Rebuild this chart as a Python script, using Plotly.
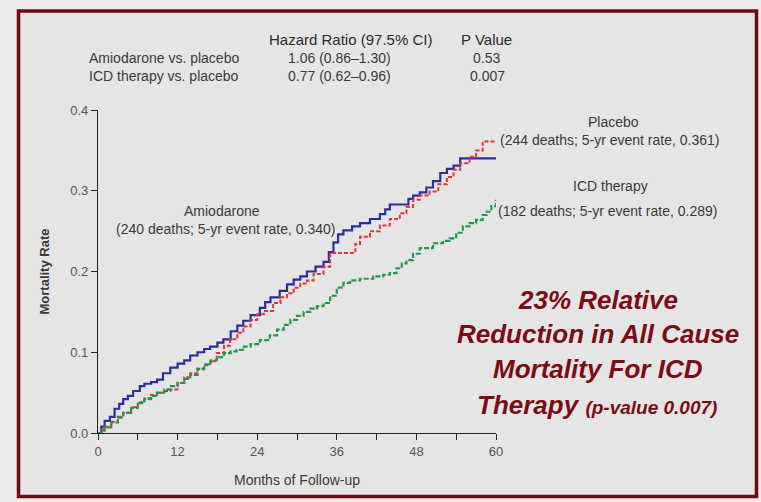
import plotly.graph_objects as go

# Kaplan-Meier style cumulative mortality, months of follow-up vs. rate
amio_months = [0, 0.5, 1, 1.8, 2.5, 3.2, 3.8, 4.5, 5.3, 6.3, 7, 8, 8.9, 9.8, 10.9, 12, 13, 13.9,
               15, 16, 16.9, 18, 18.9, 20, 21, 21.9, 23, 24.4, 25.2, 26, 27.4, 28.5, 29.5, 30.5,
               31.5, 32.8, 34, 34.8, 35.5, 36.2, 37, 38.3, 39.5, 41, 42.5, 43.3, 44, 46, 46.8,
               47.5, 48.5, 49.5, 50.5, 51.6, 52.6, 53.6, 54.6, 60]
amio_rate = [0, 0.008, 0.015, 0.02, 0.03, 0.036, 0.042, 0.046, 0.052, 0.058, 0.061, 0.063, 0.066,
             0.074, 0.081, 0.086, 0.09, 0.096, 0.1, 0.104, 0.107, 0.112, 0.116, 0.126, 0.133,
             0.139, 0.146, 0.155, 0.162, 0.168, 0.176, 0.184, 0.19, 0.194, 0.2, 0.206, 0.212,
             0.224, 0.236, 0.246, 0.251, 0.256, 0.26, 0.265, 0.271, 0.277, 0.283, 0.283, 0.29,
             0.294, 0.298, 0.304, 0.312, 0.322, 0.327, 0.331, 0.340, 0.340]

placebo_months = [0, 0.5, 1, 2, 3, 3.8, 5, 6, 7, 8, 8.9, 10, 10.9, 12, 13, 13.9, 15, 16, 16.9,
                  17.9, 19, 19.9, 21, 21.9, 23, 24, 25, 26.4, 27.5, 28.5, 29.5, 30.5, 31.5, 32.5,
                  34, 35, 38, 38.8, 39.5, 41, 42.5, 44, 45.5, 46.5, 47.5, 48.5, 50, 51.3, 52.6,
                  53.6, 54.6, 56, 57, 58, 60]
placebo_rate = [0, 0.004, 0.008, 0.014, 0.02, 0.025, 0.032, 0.038, 0.043, 0.047, 0.05, 0.052,
                0.054, 0.062, 0.069, 0.074, 0.08, 0.084, 0.089, 0.099, 0.108, 0.116, 0.124, 0.132,
                0.14, 0.147, 0.151, 0.161, 0.168, 0.173, 0.18, 0.185, 0.189, 0.197, 0.206, 0.223,
                0.223, 0.234, 0.243, 0.25, 0.257, 0.265, 0.272, 0.28, 0.289, 0.294, 0.299, 0.308,
                0.317, 0.326, 0.334, 0.342, 0.35, 0.361, 0.361]

icd_months = [0, 0.5, 1, 2, 3, 3.8, 5, 6, 7, 8, 8.9, 10, 11, 12, 13, 13.9, 15, 16, 17, 17.9, 19,
              20, 20.9, 22, 23, 24.4, 25.9, 27, 28, 29, 30, 31, 32, 33, 34, 35, 36, 37, 38, 39.5,
              41.5, 43, 44, 45, 45.8, 46.5, 47.5, 48.5, 50.5, 52, 53, 54, 55, 56, 57, 58, 58.6,
              59.3, 60]
icd_rate = [0, 0.003, 0.007, 0.013, 0.019, 0.025, 0.031, 0.037, 0.042, 0.046, 0.05, 0.054, 0.058,
            0.062, 0.067, 0.072, 0.079, 0.085, 0.09, 0.094, 0.099, 0.101, 0.103, 0.107, 0.11,
            0.115, 0.121, 0.128, 0.134, 0.14, 0.145, 0.15, 0.154, 0.157, 0.161, 0.17, 0.18, 0.186,
            0.189, 0.191, 0.194, 0.196, 0.198, 0.204, 0.21, 0.214, 0.222, 0.229, 0.235, 0.238,
            0.241, 0.248, 0.256, 0.26, 0.264, 0.27, 0.274, 0.281, 0.289]

x_ticks = [0, 6, 12, 18, 24, 30, 36, 42, 48, 54, 60]
x_tick_text = ["0", "", "12", "", "24", "", "36", "", "48", "", "60"]
y_ticks = [0.0, 0.1, 0.2, 0.3, 0.4]
y_tick_text = ["0.0", "0.1", "0.2", "0.3", "0.4"]

W, H = 761, 502
L, R, T, B = 98, 496, 110, 433  # plot-area pixel edges


def px(xp):
    return (xp - L) / (R - L)


def py(yp):
    return (B - yp) / (B - T)


TXT = "#3a3a3a"
SANS = "Liberation Sans, Arial, sans-serif"

fig = go.Figure()
fig.add_trace(go.Scatter(x=amio_months, y=amio_rate, mode="lines", line_shape="hv",
                         line=dict(color="#2b2f9c", width=2.2), name="Amiodarone"))
fig.add_trace(go.Scatter(x=placebo_months, y=placebo_rate, mode="lines", line_shape="hv",
                         line=dict(color="#e0353a", width=2, dash="4px,2px"), name="Placebo"))
fig.add_trace(go.Scatter(x=icd_months, y=icd_rate, mode="lines", line_shape="hv",
                         line=dict(color="#1e9a4c", width=2.2, dash="5px,2px"), name="ICD therapy"))

axis_common = dict(showgrid=False, zeroline=False, showline=True, linecolor="#222",
                   linewidth=1.3, ticks="outside", ticklen=6, tickcolor="#222", tickwidth=1.3,
                   tickfont=dict(family=SANS, size=13, color="#555"))
fig.update_xaxes(range=[0, 60], tickvals=x_ticks, ticktext=x_tick_text,
                 title=dict(text="Months of Follow-up", standoff=17,
                            font=dict(family=SANS, size=14, color=TXT)),
                 **axis_common)
fig.update_yaxes(range=[0, 0.4], tickvals=y_ticks, ticktext=y_tick_text,
                 title=dict(text="<b>Mortality Rate</b>", standoff=17,
                            font=dict(family=SANS, size=13, color=TXT)),
                 **axis_common)

# framed panel
fig.add_shape(type="rect", xref="paper", yref="paper", layer="below",
              x0=px(18.5), x1=px(756.5), y0=py(496.5), y1=py(11),
              line=dict(color="#6e0b0e", width=3.5), fillcolor="#e5e5e5")

ann = []


def text(x, y, s, size=14, color=TXT, family=SANS, xanchor="center"):
    ann.append(dict(x=px(x), y=py(y), xref="paper", yref="paper", text=s, showarrow=False,
                    xanchor=xanchor, yanchor="middle",
                    font=dict(family=family, size=size, color=color)))


# hazard-ratio table
text(350, 40, "Hazard Ratio (97.5% CI)", size=15, color="#2a2a2a")
text(486, 40, "P Value", size=15, color="#2a2a2a")
text(87, 58, "Amiodarone vs. placebo", size=14, xanchor="left")
text(87, 76, "ICD therapy vs. placebo", size=14, xanchor="left")
text(339, 58, "1.06 (0.86–1.30)", size=14)
text(339, 76, "0.77 (0.62–0.96)", size=14)
text(486, 58, "0.53", size=14)
text(487, 76, "0.007", size=14)

# curve labels
text(222, 211, "Amiodarone", size=14)
text(225, 229, "(240 deaths; 5-yr event rate, 0.340)", size=14)
text(613, 122, "Placebo", size=14)
text(609, 140, "(244 deaths; 5-yr event rate, 0.361)", size=14)
text(610, 186, "ICD therapy", size=14)
text(607, 211, "(182 deaths; 5-yr event rate, 0.289)", size=14)

# key message
RED = "#7c0c14"
BI = "Arial, Liberation Sans, sans-serif"
text(598, 300, "<b><i>23% Relative</i></b>", size=26, color=RED, family=BI)
text(598, 334, "<b><i>Reduction in All Cause</i></b>", size=26, color=RED, family=BI)
text(598, 369, "<b><i>Mortality For ICD</i></b>", size=26, color=RED, family=BI)
text(597, 405, "<b><i>Therapy <span style='font-size:19px'>(p-value 0.007)</span></i></b>",
     size=26, color=RED, family=BI)

fig.update_layout(width=W, height=H, margin=dict(l=L, r=W - R, t=T, b=H - B),
                  paper_bgcolor="#eeeeee", plot_bgcolor="rgba(0,0,0,0)",
                  showlegend=False, annotations=ann)

fig.write_html("out.html")
